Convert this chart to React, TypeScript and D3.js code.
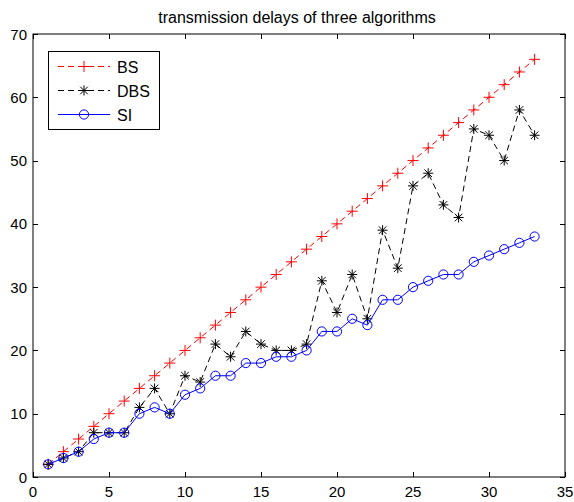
import React, { useEffect, useRef } from "react";
import * as d3 from "d3";

const xValues = [1,2,3,4,5,6,7,8,9,10,11,12,13,14,15,16,17,18,19,20,21,22,23,24,25,26,27,28,29,30,31,32,33];
const bsValues = [2,4,6,8,10,12,14,16,18,20,22,24,26,28,30,32,34,36,38,40,42,44,46,48,50,52,54,56,58,60,62,64,66];
const dbsValues = [2,3,4,7,7,7,11,14,10,16,15,21,19,23,21,20,20,21,31,26,32,25,39,33,46,48,43,41,55,54,50,58,54];
const siValues = [2,3,4,6,7,7,10,11,10,13,14,16,16,18,18,19,19,20,23,23,25,24,28,28,30,31,32,32,34,35,36,37,38];
const xTicks = [0,5,10,15,20,25,30,35];
const yTicks = [0,10,20,30,40,50,60,70];
const seriesNames = ["BS", "DBS", "SI"];
const titleText = "transmission delays of three algorithms";

const W = 574, H = 502;
const M = { left: 33, right: 565, top: 34, bottom: 477 };
const FONT = "'Liberation Sans', Arial, Helvetica, sans-serif";

export default function App() {
  const ref = useRef<SVGSVGElement>(null);
  useEffect(() => {
    const svg = d3.select(ref.current);
    svg.selectAll("*").remove();
    const x = d3.scaleLinear().domain([0, 35]).range([M.left, M.right]);
    const y = d3.scaleLinear().domain([0, 70]).range([M.bottom, M.top]);

    svg.append("rect").attr("width", W).attr("height", H).attr("fill", "#fff");

    const series = [
      { name: seriesNames[0], vals: bsValues, color: "#ff0000", dash: "6,4", marker: "plus" },
      { name: seriesNames[1], vals: dbsValues, color: "#000000", dash: "6,4", marker: "star" },
      { name: seriesNames[2], vals: siValues, color: "#0000ff", dash: null, marker: "circle" },
    ];

    const drawMarker = (g: any, cx: number, cy: number, type: string, color: string) => {
      if (type === "plus") {
        const s = 5.5;
        g.append("path").attr("d", `M${cx - s},${cy}H${cx + s}M${cx},${cy - s}V${cy + s}`)
          .attr("stroke", color).attr("stroke-width", 1).attr("fill", "none");
      } else if (type === "star") {
        const s = 5, d = 3.8;
        g.append("path").attr("d", `M${cx - s},${cy}H${cx + s}M${cx},${cy - s}V${cy + s}M${cx - d},${cy - d}L${cx + d},${cy + d}M${cx - d},${cy + d}L${cx + d},${cy - d}`)
          .attr("stroke", color).attr("stroke-width", 1).attr("fill", "none");
      } else {
        g.append("circle").attr("cx", cx).attr("cy", cy).attr("r", 4.6)
          .attr("stroke", color).attr("stroke-width", 1).attr("fill", "none");
      }
    };

    const line = d3.line<number>().x((_, i) => x(xValues[i])).y((v) => y(v));
    series.forEach((s) => {
      const g = svg.append("g");
      g.append("path").attr("d", line(s.vals) as string).attr("fill", "none")
        .attr("stroke", s.color).attr("stroke-width", 1)
        .attr("stroke-dasharray", s.dash ?? null);
      s.vals.forEach((v, i) => drawMarker(g, x(xValues[i]), y(v), s.marker, s.color));
    });

    // axes box
    svg.append("rect").attr("x", M.left).attr("y", M.top)
      .attr("width", M.right - M.left).attr("height", M.bottom - M.top)
      .attr("fill", "none").attr("stroke", "#000").attr("stroke-width", 1);

    const tk = 5;
    xTicks.forEach((t) => {
      const px = Math.round(x(t)) + 0.5;
      svg.append("path").attr("d", `M${px},${M.bottom}v${-tk}M${px},${M.top}v${tk}`).attr("stroke", "#000");
      svg.append("text").attr("x", x(t)).attr("y", M.bottom + 20).attr("text-anchor", "middle")
        .attr("font-family", FONT).attr("font-size", 15).text(String(t));
    });
    yTicks.forEach((t) => {
      const py = Math.round(y(t)) + 0.5;
      svg.append("path").attr("d", `M${M.left},${py}h${tk}M${M.right},${py}h${-tk}`).attr("stroke", "#000");
      svg.append("text").attr("x", M.left - 6).attr("y", y(t) + 5.5).attr("text-anchor", "end")
        .attr("font-family", FONT).attr("font-size", 15).text(String(t));
    });

    svg.append("text").attr("x", 297).attr("y", 22.5).attr("text-anchor", "middle")
      .attr("font-family", FONT).attr("font-size", 16).text(titleText);

    // legend
    const lg = svg.append("g");
    lg.append("rect").attr("x", 48.5).attr("y", 51.5).attr("width", 111).attr("height", 78)
      .attr("fill", "#fff").attr("stroke", "#000");
    const ly = [66.5, 90.5, 114.5];
    series.forEach((s, i) => {
      lg.append("path").attr("d", `M58,${ly[i]}H110`).attr("stroke", s.color).attr("stroke-width", 1)
        .attr("stroke-dasharray", s.dash ?? null);
      drawMarker(lg, 84, ly[i], s.marker, s.color);
      lg.append("text").attr("x", 117).attr("y", ly[i] + 6).attr("font-family", FONT)
        .attr("font-size", 16).text(s.name);
    });
  }, []);
  return (
    <svg ref={ref} width={W} height={H} style={{ position: "absolute", left: 0, top: 0 }} />
  );
}
